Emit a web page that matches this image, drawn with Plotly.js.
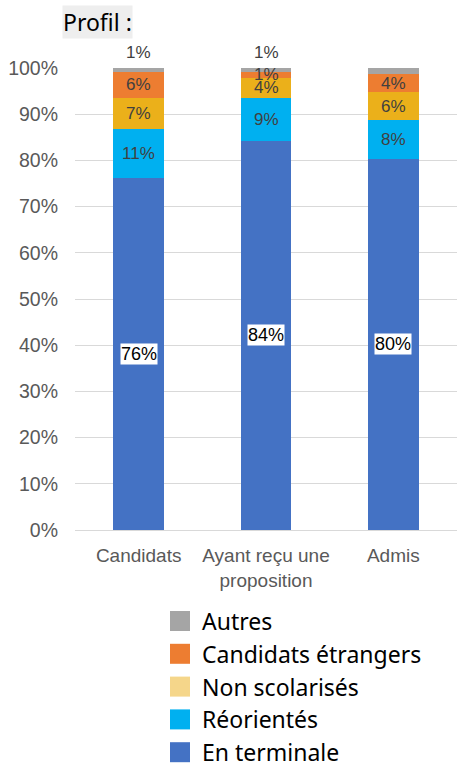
<!DOCTYPE html>
<html>
<head>
<meta charset="utf-8">
<script src="https://cdn.plot.ly/plotly-3.0.1.min.js"></script>
<style>html,body{margin:0;padding:0;background:#fff;}#chart{width:457px;height:767px;}</style>
</head>
<body>
<div id="chart"></div>
<script>
// Data
const categories = ["Candidats", "Ayant reçu une<br>proposition", "Admis"];
const enTerminale = [76.2, 84.3, 80.4];
const reorientes = [10.6, 9.3, 8.4];
const nonScolarises = [6.8, 4.2, 5.9];
const candidatsEtrangers = [5.6, 1.4, 4.0];
const autres = [0.8, 0.8, 1.3];
const yTicks = [0, 10, 20, 30, 40, 50, 60, 70, 80, 90, 100];
const yTickLabels = yTicks.map(v => v + "%");

const seriesNames = ["En terminale", "Réorientés", "Non scolarisés", "Candidats étrangers", "Autres"];
const seriesValues = [enTerminale, reorientes, nonScolarises, candidatsEtrangers, autres];
const barColors = ["#4472C4", "#00B0F0", "#EBB01A", "#ED7D31", "#A5A5A5"];
const legendColors = ["#4472C4", "#00B0F0", "#F5D68A", "#ED7D31", "#A5A5A5"];

// plot area geometry (pixels)
const W = 457, H = 767, L = 75, R = 0, T = 68, B = 237;
const plotW = W - L - R, plotH = H - T - B;
const pxX = px => (px - L) / plotW;
const pxY = py => (H - B - py) / plotH;

const traces = seriesValues.map((vals, i) => ({
  type: "bar", x: categories, y: vals, name: seriesNames[i],
  marker: {color: barColors[i]}, showlegend: false, hoverinfo: "skip", width: 0.4
}));

const labelFont = {family: "Liberation Sans, Arial, sans-serif", size: 17, color: "#404040"};
const annotations = [];
categories.forEach((cat, c) => {
  let cum = 0;
  seriesValues.forEach((vals, i) => {
    const v = vals[c];
    const label = Math.round(v) + "%";
    if (i === 0) {
      annotations.push({x: cat, y: cum + v / 2, xref: "x", yref: "y", text: label, showarrow: false,
        bgcolor: "#FFFFFF", borderpad: 0,
        font: {family: "Liberation Sans, Arial, sans-serif", size: 18, color: "#000000"}});
    } else if (i === seriesValues.length - 1) {
      annotations.push({x: cat, y: cum + v, xref: "x", yref: "y", text: label, showarrow: false,
        yanchor: "bottom", yshift: 4, font: labelFont});
    } else {
      annotations.push({x: cat, y: cum + v / 2, xref: "x", yref: "y", text: label, showarrow: false,
        font: labelFont});
    }
    cum += v;
  });
});
// title
annotations.push({xref: "paper", yref: "paper", x: pxX(62), y: pxY(22), xanchor: "left", yanchor: "middle",
  text: "Profil :", showarrow: false, bgcolor: "#EEEEEE", borderpad: 0,
  font: {family: "Noto Sans, sans-serif", size: 23, color: "#000000"}});

// custom legend (reverse order: Autres on top)
const shapes = [];
const legendTop = 621, legendStep = 32.8;
for (let k = 0; k < seriesNames.length; k++) {
  const i = seriesNames.length - 1 - k;
  const cy = legendTop + k * legendStep;
  shapes.push({type: "rect", xref: "paper", yref: "paper", xsizemode: "pixel", ysizemode: "pixel",
    xanchor: pxX(170), yanchor: pxY(cy), x0: 0, x1: 20, y0: -10, y1: 10,
    fillcolor: legendColors[i], line: {width: 0}});
  annotations.push({xref: "paper", yref: "paper", x: pxX(200), y: pxY(cy), xanchor: "left", yanchor: "middle",
    text: seriesNames[i], showarrow: false,
    font: {family: "Noto Sans, sans-serif", size: 23, color: "#000000"}});
}

const layout = {
  width: W, height: H,
  margin: {l: L, r: R, t: T, b: B, pad: 0},
  barmode: "stack",
  paper_bgcolor: "#FFFFFF", plot_bgcolor: "#FFFFFF",
  font: {family: "Liberation Sans, Arial, sans-serif", color: "#595959", size: 18},
  xaxis: {type: "category", range: [-0.5, 2.5], showgrid: false, zeroline: false, automargin: false,
    showline: false, ticks: "", ticklabelstandoff: 12, tickfont: {size: 19, color: "#595959"}},
  yaxis: {range: [0, 100], tickvals: yTicks, ticktext: yTickLabels, showgrid: true, automargin: false,
    gridcolor: "#D9D9D9", gridwidth: 1, zeroline: true, zerolinecolor: "#D9D9D9", zerolinewidth: 1,
    showline: false, ticks: "", ticklabelstandoff: 16, tickfont: {size: 19.5, color: "#595959"}},
  annotations: annotations,
  shapes: shapes,
  showlegend: false
};

Plotly.newPlot("chart", traces, layout, {displayModeBar: false, staticPlot: true});
</script>
</body>
</html>
